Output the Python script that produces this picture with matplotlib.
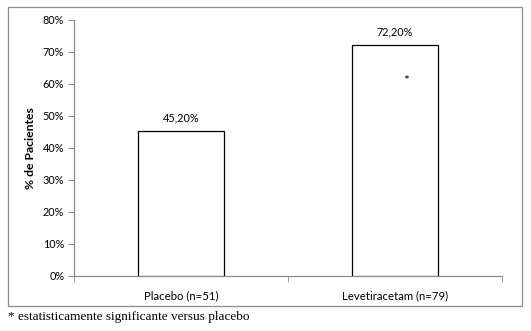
import matplotlib.pyplot as plt
from matplotlib.patches import Rectangle
from matplotlib.ticker import PercentFormatter

# data
categories = ['Placebo (n=51)', 'Levetiracetam (n=79)']
values = [45.2, 72.2]
value_labels = ['45,20%', '72,20%']
yticks = [0, 10, 20, 30, 40, 50, 60, 70, 80]
star_value = 61

plt.rcParams['font.family'] = ['Lato', 'DejaVu Sans']

fig = plt.figure(figsize=(5.31, 3.31), dpi=100)
fig.patches.append(Rectangle((8 / 531, 1 - 306 / 331), 514 / 531, 299 / 331,
                             transform=fig.transFigure, fill=False,
                             edgecolor='#8c8c8c', lw=0.9))
ax = fig.add_axes([74 / 531, 1 - 276 / 331, 428 / 531, 256 / 331])

x = [0, 1]
ax.bar(x, values, width=0.4, color='white', edgecolor='black', lw=0.9, zorder=3)
for xi, v, lab in zip(x, values, value_labels):
    ax.text(xi, v + 2.5, lab, ha='center', va='bottom', fontsize=7.8)
ax.text(1.05, star_value, '*', ha='center', va='center', fontsize=10)

ax.set_xlim(-0.5, 1.5)
ax.set_ylim(0, 80)
ax.set_yticks(yticks)
ax.yaxis.set_major_formatter(PercentFormatter(decimals=0))
ax.set_xticks(x)
ax.set_xticklabels(categories, fontsize=8.2)
ax.set_xticks([-0.5, 0.5, 1.5], minor=True)
ax.tick_params(axis='x', which='major', length=0, pad=10)
ax.tick_params(axis='x', which='minor', length=4, color='#8c8c8c', direction='out')
ax.tick_params(axis='y', length=4, color='#8c8c8c', labelsize=7.8, pad=3)
ax.set_ylabel('% de Pacientes', fontsize=8.8, fontweight='bold', labelpad=5)

for s in ['top', 'right']:
    ax.spines[s].set_visible(False)
for s in ['left', 'bottom']:
    ax.spines[s].set_color('#8c8c8c')
    ax.spines[s].set_linewidth(0.9)

fig.text(8 / 531, 1 - 317 / 331, '* estatisticamente significante versus placebo',
         family='Liberation Serif', fontsize=9.5, ha='left', va='center')

fig.savefig('out.png', dpi=100)
